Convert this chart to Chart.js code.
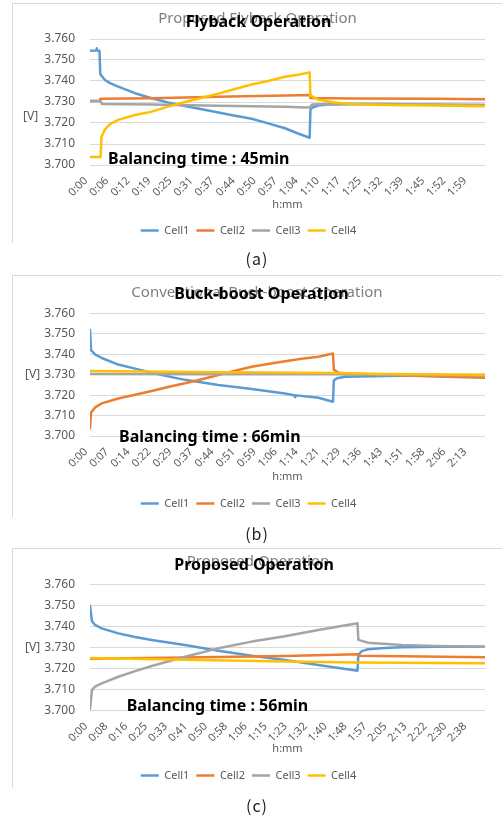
<!DOCTYPE html>
<html>
<head>
<meta charset="utf-8">
<script src="https://cdn.jsdelivr.net/npm/chart.js@4/dist/chart.umd.min.js"></script>
<style>
  html, body { margin: 0; padding: 0; background: #fff; }
  body { width: 502px; height: 817px; position: relative; overflow: hidden; font-family: "Noto Sans", sans-serif; }
  .frame { position: absolute; left: 12px; width: 490px; border-top: 1px solid #d9d9d9; border-left: 1px solid #d9d9d9; box-sizing: border-box; }
  .plot { position: absolute; left: 12px; width: 488px; height: 250px; }
  .caption { position: absolute; left: 0; width: 514px; height: 20px; line-height: 20px; text-align: center;
             font-family: "Noto Sans CJK KR", "Noto Sans", sans-serif; font-size: 16px; color: #222; letter-spacing: 1px; }
</style>
</head>
<body>
<div class="frame" style="top:3px;height:240px"></div>
<div class="frame" style="top:275px;height:242px"></div>
<div class="frame" style="top:548px;height:240px"></div>
<div class="plot" style="top:3px"><canvas id="chartA" width="488" height="250"></canvas></div>
<div class="plot" style="top:275px"><canvas id="chartB" width="488" height="250"></canvas></div>
<div class="plot" style="top:548px"><canvas id="chartC" width="488" height="250"></canvas></div>
<div class="caption" style="top:248px">(a)</div>
<div class="caption" style="top:523px">(b)</div>
<div class="caption" style="top:795px">(c)</div>

<script>
// Cell voltages [V] against sample position (one unit = one labelled time step)
const cellNames  = ['Cell1', 'Cell2', 'Cell3', 'Cell4'];
const cellColors = ['#5B9BD5', '#ED7D31', '#A5A5A5', '#FFC000'];

// (a) proposed flyback balancing
const ticksFlyback = ['0:00','0:06','0:12','0:19','0:25','0:31','0:37','0:44','0:50','0:57',
                      '1:04','1:10','1:17','1:25','1:32','1:39','1:45','1:52','1:59'];
const flybackCell1 = [[0,3.7544],[0.29,3.7545],[0.32,3.7556],[0.35,3.7545],[0.45,3.7544],[0.49,3.7432],
  [0.71,3.7405],[0.95,3.7390],[1.34,3.7373],[2.14,3.7342],[2.93,3.7318],[3.71,3.7298],[4.51,3.7281],
  [5.31,3.7265],[6.10,3.7250],[6.89,3.7235],[7.68,3.7220],[8.46,3.7198],[9.26,3.7175],[9.88,3.7150],
  [10.43,3.7130],[10.47,3.7265],[10.59,3.7275],[10.83,3.7283],[11.31,3.7288],[12.43,3.7290],
  [14.01,3.7290],[16.39,3.7287],[18.76,3.7283]];
const flybackCell2 = [[0,3.7305],[0.47,3.7305],[0.49,3.7315],[2.93,3.7318],[6.10,3.7325],[9.26,3.7331],
  [10.45,3.7333],[10.47,3.7319],[12.43,3.7317],[16.39,3.7315],[18.76,3.7313]];
const flybackCell3 = [[0,3.7305],[0.50,3.7305],[0.56,3.7291],[2.93,3.7288],[6.10,3.7282],[9.26,3.7277],
  [10.20,3.7274],[10.45,3.7275],[10.55,3.7288],[11.31,3.7290],[18.76,3.7287]];
const flybackCell4 = [[0,3.7038],[0.50,3.7038],[0.55,3.7135],[0.71,3.7170],[0.95,3.7195],[1.34,3.7215],
  [2.14,3.7238],[2.93,3.7254],[3.71,3.7278],[4.51,3.7300],[5.31,3.7320],[6.10,3.7340],[6.89,3.7362],
  [7.68,3.7383],[8.46,3.7400],[9.26,3.7420],[9.88,3.7430],[10.43,3.7441],[10.47,3.7330],[10.83,3.7312],
  [11.60,3.7298],[12.43,3.7291],[14.01,3.7286],[16.39,3.7283],[18.76,3.7280]];

// (b) conventional buck-boost balancing
const ticksBuckBoost = ['0:00','0:07','0:14','0:22','0:29','0:37','0:44','0:51','0:59','1:06',
                        '1:14','1:21','1:29','1:36','1:43','1:51','1:58','2:06','2:13'];
const buckCell1 = [[0,3.7519],[0.05,3.7420],[0.24,3.7400],[0.56,3.7382],[1.34,3.7350],[2.14,3.7330],
  [2.93,3.7310],[3.71,3.7292],[4.51,3.7275],[6.10,3.7250],[7.68,3.7230],[9.26,3.7208],[9.69,3.7200],
  [9.74,3.7190],[9.79,3.7199],[10.85,3.7187],[11.54,3.7168],[11.58,3.7272],[11.73,3.7283],[12.11,3.7290],
  [14.01,3.7294],[16.39,3.7297],[18.76,3.7299]];
const buckCell2 = [[0,3.7037],[0.05,3.7115],[0.24,3.7140],[0.56,3.7160],[1.34,3.7184],[2.14,3.7202],
  [2.93,3.7220],[3.71,3.7240],[4.51,3.7258],[5.31,3.7278],[6.10,3.7299],[6.89,3.7320],[7.68,3.7339],
  [8.46,3.7353],[9.26,3.7366],[10.05,3.7378],[10.85,3.7388],[11.54,3.7404],[11.58,3.7325],[11.80,3.7310],
  [12.50,3.7305],[14.01,3.7300],[16.39,3.7291],[18.76,3.7285]];
const buckCell3 = [[0,3.7304],[5.00,3.7303],[11.50,3.7302],[14.01,3.7300],[18.76,3.7296]];
const buckCell4 = [[0,3.7318],[5.00,3.7314],[11.50,3.7308],[14.01,3.7304],[18.76,3.7300]];

// (c) proposed balancing
const ticksProposed = ['0:00','0:08','0:16','0:25','0:33','0:41','0:50','0:58','1:06','1:15',
                       '1:23','1:32','1:40','1:48','1:57','2:05','2:13','2:22','2:30','2:38'];
const propCell1 = [[0,3.7497],[0.10,3.7425],[0.25,3.7407],[0.59,3.7391],[1.42,3.7367],[2.26,3.7350],
  [3.09,3.7336],[4.76,3.7312],[6.43,3.7285],[8.11,3.7261],[9.77,3.7241],[11.44,3.7217],[13.41,3.7190],
  [13.45,3.7265],[13.63,3.7283],[13.93,3.7292],[14.79,3.7298],[15.62,3.7301],[17.29,3.7304],[19.80,3.7304]];
const propCell2 = [[0,3.7247],[4.76,3.7252],[9.77,3.7260],[13.41,3.7268],[13.45,3.7261],[15.62,3.7258],[19.80,3.7254]];
const propCell3 = [[0,3.7007],[0.10,3.7098],[0.25,3.7114],[0.59,3.7130],[1.42,3.7161],[2.26,3.7188],
  [3.09,3.7212],[4.76,3.7256],[6.43,3.7296],[8.11,3.7328],[9.77,3.7353],[11.44,3.7383],[13.41,3.7415],
  [13.45,3.7336],[13.93,3.7323],[15.62,3.7312],[17.29,3.7307],[19.80,3.7304]];
const propCell4 = [[0,3.7250],[4.76,3.7242],[9.77,3.7234],[13.41,3.7229],[19.80,3.7225]];

const voltMin = 3.700, voltMax = 3.760, voltStep = 0.010;

Chart.defaults.font.family = '"Noto Sans", sans-serif';

// Slanted time labels at the x-scale's tick positions, overlaid chart titles,
// the horizontal unit label and the balancing-time note
const overlayText = {
  id: 'overlayText',
  afterDraw(chart, args, o) {
    const { ctx, scales, chartArea } = chart;
    ctx.save();

    ctx.font = '11px "Noto Sans"';
    ctx.fillStyle = '#595959';
    ctx.textAlign = 'right';
    ctx.textBaseline = 'middle';
    scales.x.ticks.forEach(t => {
      const label = o.timeLabels[Math.round(t.value)];
      if (label === undefined) return;
      ctx.save();
      ctx.translate(scales.x.getPixelForValue(t.value) - 4, chartArea.bottom + 14);
      ctx.rotate(-Math.PI / 4);
      ctx.fillText(label, 0, 0);
      ctx.restore();
    });

    ctx.textAlign = 'center';
    ctx.font = '15px "Noto Sans"';
    ctx.fillStyle = '#7f7f7f';
    ctx.fillText(o.subtitle, o.subtitleAt[0], o.subtitleAt[1]);
    ctx.font = 'bold 16px "Noto Sans"';
    ctx.fillStyle = '#000';
    ctx.fillText(o.title, o.titleAt[0], o.titleAt[1]);

    ctx.textAlign = 'left';
    ctx.font = '12px "Noto Sans"';
    ctx.fillStyle = '#595959';
    ctx.fillText('[V]', o.unitAt[0], o.unitAt[1]);

    ctx.textBaseline = 'alphabetic';
    ctx.font = 'bold 16px "Noto Sans"';
    ctx.fillStyle = '#000';
    ctx.fillText(o.note, scales.x.getPixelForValue(o.noteAt[0]), scales.y.getPixelForValue(o.noteAt[1]));
    ctx.restore();
  }
};

const panels = [
  { canvas: 'chartA', ticks: ticksFlyback, series: [flybackCell1, flybackCell2, flybackCell3, flybackCell4],
    subtitle: 'Proposed Flyback Operation', title: 'Flyback Operation', note: 'Balancing time : 45min',
    noteAt: [0.855, 3.7003],
    box: { top: 36, bottom: 7, xHeight: 53, titlePad: 6.4, subtitleAt: [245.5, 15.3], titleAt: [246.5, 19.7], unitAt: [11, 114] } },
  { canvas: 'chartB', ticks: ticksBuckBoost, series: [buckCell1, buckCell2, buckCell3, buckCell4],
    subtitle: 'Conventional Buck-boost Operation', title: 'Buck-boost Operation', note: 'Balancing time : 66min',
    noteAt: [1.38, 3.6972],
    box: { top: 38.5, bottom: 6, xHeight: 55, titlePad: 7.7, subtitleAt: [245, 17.3], titleAt: [249.5, 19], unitAt: [13, 99.3] } },
  { canvas: 'chartC', ticks: ticksProposed, series: [propCell1, propCell2, propCell3, propCell4],
    subtitle: 'Proposed Operation', title: 'Proposed Operation', note: 'Balancing time : 56min',
    noteAt: [1.84, 3.7000],
    box: { top: 36.3, bottom: 7, xHeight: 52.3, titlePad: 7.1, subtitleAt: [246, 14], titleAt: [242, 17.7], unitAt: [13, 99.7] } }
];

panels.forEach(p => {
  const xMax = Math.max(...p.series.map(s => s[s.length - 1][0]));
  new Chart(document.getElementById(p.canvas), {
    type: 'line',
    data: {
      datasets: p.series.map((pts, i) => ({
        label: cellNames[i],
        data: pts,
        borderColor: cellColors[i],
        backgroundColor: cellColors[i],
        borderWidth: 2.5,
        borderJoinStyle: 'round',
        borderCapStyle: 'round',
        pointRadius: 0,
        tension: 0,
        order: p.series.length - 1 - i
      }))
    },
    options: {
      responsive: false,
      animation: false,
      devicePixelRatio: 1,
      layout: { padding: { top: p.box.top, bottom: p.box.bottom, left: 0, right: 15 } },
      plugins: {
        legend: {
          position: 'bottom',
          labels: {
            usePointStyle: true, pointStyle: 'line', pointStyleWidth: 18, padding: 7,
            color: '#595959', font: { size: 11 },
            sort: (a, b) => a.datasetIndex - b.datasetIndex
          }
        },
        tooltip: { enabled: false },
        overlayText: {
          timeLabels: p.ticks,
          subtitle: p.subtitle, title: p.title, note: p.note, noteAt: p.noteAt,
          subtitleAt: p.box.subtitleAt, titleAt: p.box.titleAt, unitAt: p.box.unitAt
        }
      },
      scales: {
        x: {
          type: 'linear', min: 0, max: xMax,
          grid: { display: false, drawTicks: false }, border: { display: false },
          ticks: { stepSize: 1, autoSkip: false, includeBounds: false, display: false },
          title: { display: true, text: 'h:mm', color: '#595959', font: { size: 11 }, padding: { top: 0, bottom: p.box.titlePad } },
          afterFit: s => { s.height = p.box.xHeight; }
        },
        y: {
          min: voltMin, max: voltMax,
          grid: { color: '#d9d9d9', drawTicks: false }, border: { display: false },
          ticks: { stepSize: voltStep, padding: 15, color: '#595959', font: { size: 12 }, callback: v => Number(v).toFixed(3) },
          afterFit: s => { s.width = 78; }
        }
      }
    },
    plugins: [overlayText]
  });
});
</script>
</body>
</html>
